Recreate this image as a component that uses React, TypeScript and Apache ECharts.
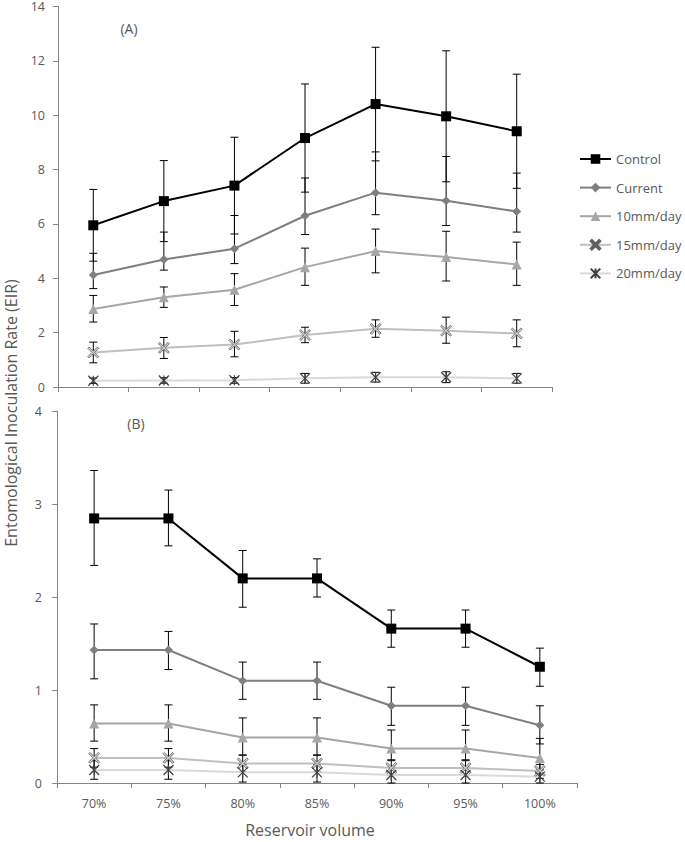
import React, { useEffect, useRef } from "react";
import * as echarts from "echarts";

const categories = ["70%", "75%", "80%", "85%", "90%", "95%", "100%"];
const seriesNames = ["Control", "Current", "10mm/day", "15mm/day", "20mm/day"];
const ticksA = [0, 14, 2];
const ticksB = [0, 4, 1];

// Panel (A)
const controlA = [5.95, 6.84, 7.41, 9.16, 10.41, 9.96, 9.41];
const controlALow = [4.63, 5.35, 5.63, 7.17, 8.32, 7.55, 7.31];
const controlAHigh = [7.27, 8.33, 9.19, 11.15, 12.5, 12.37, 11.51];
const currentA = [4.12, 4.69, 5.09, 6.3, 7.15, 6.85, 6.46];
const currentALow = [3.62, 4.3, 4.54, 5.61, 6.34, 5.94, 5.7];
const currentAHigh = [4.92, 5.7, 6.31, 7.69, 8.65, 8.48, 7.87];
const mm10A = [2.87, 3.3, 3.58, 4.41, 5.0, 4.78, 4.51];
const mm10ALow = [2.39, 2.93, 3.0, 3.74, 4.2, 3.9, 3.74];
const mm10AHigh = [3.37, 3.68, 4.17, 5.11, 5.81, 5.73, 5.33];
const mm15A = [1.27, 1.44, 1.56, 1.91, 2.14, 2.07, 1.97];
const mm15ALow = [0.89, 1.05, 1.11, 1.63, 1.83, 1.61, 1.48];
const mm15AHigh = [1.65, 1.82, 2.05, 2.2, 2.47, 2.57, 2.47];
const mm20A = [0.23, 0.24, 0.25, 0.32, 0.36, 0.36, 0.32];
const mm20ALow = [0.13, 0.14, 0.14, 0.14, 0.18, 0.16, 0.14];
const mm20AHigh = [0.33, 0.34, 0.35, 0.5, 0.54, 0.56, 0.5];

// Panel (B)
const controlB = [2.845, 2.845, 2.2, 2.2, 1.66, 1.66, 1.25];
const controlBLow = [2.34, 2.55, 1.89, 2.0, 1.46, 1.46, 1.04];
const controlBHigh = [3.36, 3.15, 2.5, 2.41, 1.86, 1.86, 1.45];
const currentB = [1.43, 1.43, 1.1, 1.1, 0.83, 0.83, 0.62];
const currentBLow = [1.12, 1.22, 0.9, 0.9, 0.62, 0.62, 0.42];
const currentBHigh = [1.71, 1.63, 1.3, 1.3, 1.03, 1.03, 0.83];
const mm10B = [0.64, 0.64, 0.49, 0.49, 0.37, 0.37, 0.27];
const mm10BLow = [0.45, 0.45, 0.3, 0.3, 0.25, 0.25, 0.1];
const mm10BHigh = [0.84, 0.84, 0.7, 0.7, 0.57, 0.57, 0.48];
const mm15B = [0.27, 0.27, 0.21, 0.21, 0.16, 0.16, 0.13];
const mm15BLow = [0.17, 0.17, 0.12, 0.12, 0.08, 0.08, 0.05];
const mm15BHigh = [0.37, 0.37, 0.3, 0.3, 0.24, 0.24, 0.2];
const mm20B = [0.14, 0.14, 0.115, 0.115, 0.086, 0.086, 0.068];
const mm20BLow = [0.04, 0.04, 0.01, 0.01, 0.0, 0.0, 0.0];
const mm20BHigh = [0.24, 0.24, 0.2, 0.2, 0.17, 0.17, 0.14];

const panelA = [
  [controlA, controlALow, controlAHigh],
  [currentA, currentALow, currentAHigh],
  [mm10A, mm10ALow, mm10AHigh],
  [mm15A, mm15ALow, mm15AHigh],
  [mm20A, mm20ALow, mm20AHigh],
];
const panelB = [
  [controlB, controlBLow, controlBHigh],
  [currentB, currentBLow, currentBHigh],
  [mm10B, mm10BLow, mm10BHigh],
  [mm15B, mm15BLow, mm15BHigh],
  [mm20B, mm20BLow, mm20BHigh],
];

const X_PATH = "path://M0,1.2L1.2,0L5,3.8L8.8,0L10,1.2L6.2,5L10,8.8L8.8,10L5,6.2L1.2,10L0,8.8L3.8,5Z";
const STAR_PATH = "path://M0,0L10,10M10,0L0,10M5,0L5,10";

const styles = [
  { line: "#000000", symbol: "rect", size: 10, fill: "#000000", border: "#000000", bw: 0 },
  { line: "#7f7f7f", symbol: "diamond", size: 9, fill: "#7f7f7f", border: "#7f7f7f", bw: 0 },
  { line: "#a6a6a6", symbol: "triangle", size: 10, fill: "#a6a6a6", border: "#a6a6a6", bw: 0 },
  { line: "#bfbfbf", symbol: X_PATH, size: 11, fill: "#cccccc", border: "#606060", bw: 0.8 },
  { line: "#d9d9d9", symbol: STAR_PATH, size: 10, fill: "#404040", border: "#404040", bw: 1.2 },
];

const FONT = "'Open Sans', 'Liberation Sans', sans-serif";
const AXIS_COLOR = "#868686";
const TEXT_COLOR = "#595959";

function errorRender(params: any, api: any) {
  const x = api.value(0);
  const lo = api.coord([x, api.value(1)]);
  const hi = api.coord([x, api.value(2)]);
  const w = 4;
  const st = { stroke: "#000000", lineWidth: 1 };
  return {
    type: "group",
    children: [
      { type: "line", shape: { x1: lo[0], y1: lo[1], x2: hi[0], y2: hi[1] }, style: st },
      { type: "line", shape: { x1: lo[0] - w, y1: lo[1], x2: lo[0] + w, y2: lo[1] }, style: st },
      { type: "line", shape: { x1: hi[0] - w, y1: hi[1], x2: hi[0] + w, y2: hi[1] }, style: st },
    ],
  };
}

function buildSeries(panel: number[][][], axisIndex: number) {
  const out: any[] = [];
  panel.forEach((arr, k) => {
    const [vals, low, high] = arr;
    const s = styles[k];
    out.push({
      type: "custom",
      name: "err" + axisIndex + "_" + k,
      xAxisIndex: axisIndex,
      yAxisIndex: axisIndex,
      renderItem: errorRender,
      encode: { x: 0, y: [1, 2] },
      data: categories.map((c, i) => [i, low[i], high[i]]),
      z: 1,
      silent: true,
    });
    out.push({
      type: "line",
      name: seriesNames[k],
      xAxisIndex: axisIndex,
      yAxisIndex: axisIndex,
      data: vals,
      symbol: s.symbol,
      symbolSize: s.size,
      showAllSymbol: true,
      lineStyle: { color: s.line, width: 2 },
      itemStyle: { color: s.fill, borderColor: s.border, borderWidth: s.bw, opacity: 1 },
      z: 3,
    });
  });
  return out;
}

function yAxis(gridIndex: number, t: number[], margin: number) {
  return {
    type: "value",
    gridIndex,
    min: t[0],
    max: t[1],
    interval: t[2],
    splitLine: { show: false },
    axisLine: { show: true, lineStyle: { color: AXIS_COLOR, width: 1 } },
    axisTick: { show: true, length: 5, lineStyle: { color: AXIS_COLOR } },
    axisLabel: { color: TEXT_COLOR, fontSize: 12.5, fontFamily: FONT, margin },
  };
}

function xAxis(gridIndex: number, showLabels: boolean) {
  return {
    type: "category",
    gridIndex,
    data: categories,
    boundaryGap: true,
    axisLine: { show: true, lineStyle: { color: AXIS_COLOR, width: 1 } },
    axisTick: { show: true, length: 5, interval: 0, lineStyle: { color: AXIS_COLOR } },
    axisLabel: { show: showLabels, color: TEXT_COLOR, fontSize: 12.5, fontFamily: FONT, margin: 14, interval: 0 },
  };
}

export default function App() {
  const ref = useRef<HTMLDivElement>(null);
  useEffect(() => {
    if (!ref.current) return;
    const chart = echarts.init(ref.current, undefined, { renderer: "svg" });
    chart.setOption({
      animation: false,
      backgroundColor: "#ffffff",
      textStyle: { fontFamily: FONT },
      grid: [
        { left: 58, top: 5.5, width: 494, height: 381.5 },
        { left: 57, top: 411, width: 520, height: 372 },
      ],
      xAxis: [xAxis(0, false), xAxis(1, true)],
      yAxis: [yAxis(0, ticksA, 13), yAxis(1, ticksB, 15)],
      legend: {
        data: seriesNames,
        orient: "vertical",
        left: 574,
        top: 147,
        itemWidth: 31,
        itemHeight: 12,
        itemGap: 14.6,
        textStyle: { color: TEXT_COLOR, fontSize: 13, fontFamily: FONT, lineHeight: 14 },
        selectedMode: false,
      },
      graphic: [
        {
          type: "text",
          x: 11,
          y: 413,
          rotation: Math.PI / 2,
          style: {
            text: "Entomological Inoculation Rate (EIR)",
            fill: TEXT_COLOR,
            font: "16px " + FONT,
            align: "center",
            verticalAlign: "middle",
          },
        },
        {
          type: "text",
          x: 310,
          y: 830,
          style: {
            text: "Reservoir volume",
            fill: TEXT_COLOR,
            font: "16px " + FONT,
            align: "center",
            verticalAlign: "middle",
          },
        },
        {
          type: "text",
          x: 129,
          y: 28,
          style: { text: "(A)", fill: TEXT_COLOR, font: "14px " + FONT, align: "center", verticalAlign: "middle" },
        },
        {
          type: "text",
          x: 136,
          y: 423,
          style: { text: "(B)", fill: TEXT_COLOR, font: "14px " + FONT, align: "center", verticalAlign: "middle" },
        },
      ],
      series: [...buildSeries(panelA, 0), ...buildSeries(panelB, 1)],
    });
    return () => chart.dispose();
  }, []);
  return (
    <div
      ref={ref}
      style={{ position: "fixed", left: 0, top: 0, width: 685, height: 842, background: "#ffffff" }}
    />
  );
}
